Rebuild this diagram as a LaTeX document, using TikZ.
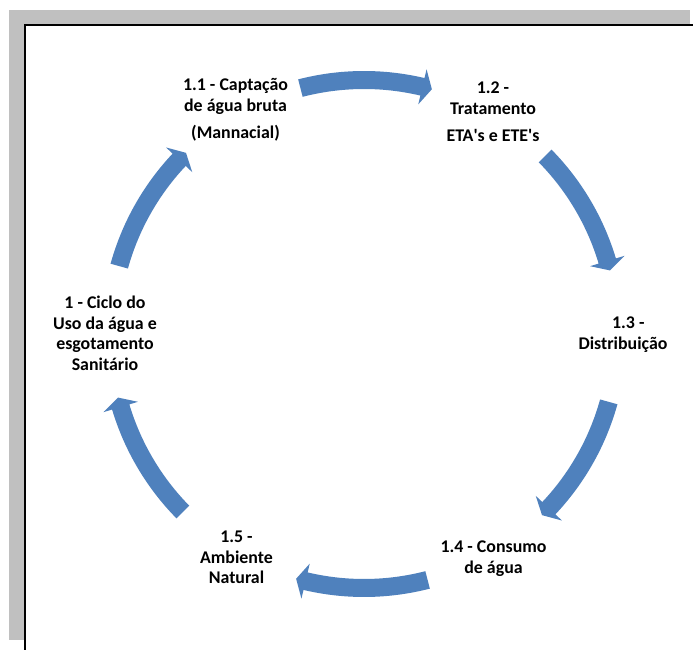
\documentclass[tikz,border=0pt]{standalone}
\usepackage{fontspec}
\setmainfont{Carlito}
\definecolor{arrowblue}{HTML}{4F81BD}
\definecolor{framegray}{HTML}{C0C0C0}
\begin{document}
\begin{tikzpicture}[x=0.75pt,y=0.75pt,
  cycletext/.style={font=\bfseries\fontsize{13.4}{15.4}\selectfont, align=center, inner sep=0pt},
  cyclearrow/.style={fill=arrowblue}]
\useasboundingbox (0,0) rectangle (693,650);
% shadowed page frame
\fill[framegray] (9,10) rectangle (690,640);
\fill[white] (25,0) rectangle (693,625);
\draw[line width=1.5pt] (25,0) -- (25,625) -- (693,625);

% stage labels
\node[cycletext] (ciclo) at (105,316.5) {1 - Ciclo do\\Uso da água e\\esgotamento\\Sanitário};
\node[cycletext] (captacao) at (235.5,540) {1.1 - Captação\\de água bruta\\[5pt](Mannacial)};
\node[cycletext] (tratamento) at (493,538) {1.2 -\\Tratamento\\[5pt]ETA\textquotesingle s e ETE\textquotesingle s};
\node[cycletext] (distribuicao) at (623,315.5) {\hspace*{8pt}1.3 -\\Distribuição};
\node[cycletext] (consumo) at (493.5,91.5) {1.4 - Consumo\\de água};
\node[cycletext] (ambiente) at (236.5,92.5) {1.5 -\\Ambiente\\Natural};

% curved arrows around the cycle, running clockwise
\coordinate (hub) at (364,316);
\foreach \c [evaluate=\c as \ta using \c+14.5,
             evaluate=\c as \hb using \c-13.3,
             evaluate=\c as \tp using \c-15.5] in {90,30,-30,-90,-150,150} {
  \fill[cyclearrow, shift={(hub)}]
    (\ta:263) arc[start angle=\ta, end angle=\hb, radius=263]
    -- (\hb:272) -- (\tp:254) -- (\hb:236) -- (\hb:245)
    arc[start angle=\hb, end angle=\ta, radius=245] -- cycle;
}
\end{tikzpicture}
\end{document}
